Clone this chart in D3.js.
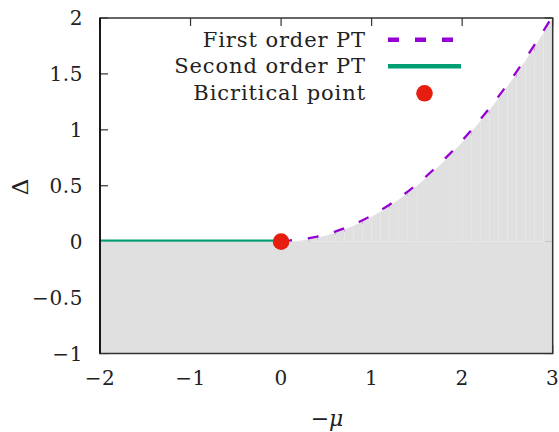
<!DOCTYPE html>
<html>
<head>
<meta charset="utf-8">
<script src="https://cdn.jsdelivr.net/npm/d3@7"></script>
<style>
html,body{margin:0;padding:0;background:#fff;}
svg{display:block;}
text{font-family:"DejaVu Serif","Liberation Serif",serif;fill:#222;}
</style>
</head>
<body>
<svg id="chart" width="559" height="432"></svg>
<script>
// ---- data ----
const xTicks = [-2, -1, 0, 1, 2, 3];
const yTicks = [-1, -0.5, 0, 0.5, 1, 1.5, 2];
const xTickLabels = ["\u22122", "\u22121", "0", "1", "2", "3"];
const yTickLabels = ["\u22121", "\u22120.5", "0", "0.5", "1", "1.5", "2"];
// first-order transition line (−μ, Δ)
const firstMu = [0,0.1,0.2,0.3,0.4,0.5,0.6,0.7,0.8,0.9,1.0,1.1,1.2,1.3,1.4,1.5,1.6,1.7,1.8,1.9,2.0,2.1,2.2,2.3,2.4,2.5,2.6,2.7,2.8,2.9,3.0];
const firstDelta = [0,0.002,0.009,0.02,0.036,0.056,0.08,0.109,0.142,0.18,0.222,0.269,0.32,0.376,0.436,0.5,0.569,0.642,0.72,0.802,0.889,0.98,1.076,1.176,1.28,1.389,1.502,1.62,1.742,1.869,2.0];
// second-order transition line
const secondMu = [-2, 0];
const secondDelta = [0, 0];
// bicritical point
const bicritMu = [0];
const bicritDelta = [0];
const legendLabels = ["First order PT", "Second order PT", "Bicritical point"];
const colors = {first: "#9400d3", second: "#009e73", point: "#e51e10", fill: "#e0e0e0"};

// ---- layout ----
const svg = d3.select("#chart");
const L = 100, R = 552.7, T = 18, B = 353.5;
const x = d3.scaleLinear().domain([-2, 3]).range([L, R]);
const y = d3.scaleLinear().domain([-1, 2]).range([B, T]);

// ticks (mirrored, inward) drawn first so the fill covers some of them
const tickG = svg.append("g").attr("stroke", "#333").attr("stroke-width", 1.2);
xTicks.forEach(v => {
  tickG.append("line").attr("x1", x(v)).attr("x2", x(v)).attr("y1", B).attr("y2", B - 8);
  tickG.append("line").attr("x1", x(v)).attr("x2", x(v)).attr("y1", T).attr("y2", T + 8);
});
yTicks.forEach(v => {
  tickG.append("line").attr("x1", L).attr("x2", L + 8).attr("y1", y(v)).attr("y2", y(v));
  tickG.append("line").attr("x1", R).attr("x2", R - 8).attr("y1", y(v)).attr("y2", y(v));
});

// lines
const firstPts = firstMu.map((m, i) => [m, firstDelta[i]]);
const line = d3.line().x(d => x(d[0])).y(d => y(d[1]));
svg.append("path").datum(secondMu.map((m, i) => [m, secondDelta[i]]))
  .attr("d", line).attr("fill", "none").attr("stroke", colors.second).attr("stroke-width", 4.5);
svg.append("path").datum(firstPts)
  .attr("d", line).attr("fill", "none").attr("stroke", colors.first)
  .attr("stroke-width", 4.5).attr("stroke-dasharray", "11,16");

// fill below: base rectangle from Δ=-1 to 0, then strips under the curve
const fillG = svg.append("g").attr("fill", colors.fill);
fillG.append("rect").attr("x", x(-2)).attr("y", y(0)).attr("width", x(3) - x(-2)).attr("height", y(-1) - y(0));
const area = d3.area().x(d => x(d[0])).y0(y(0)).y1(d => y(d[1]));
for (let i = 0; i < firstPts.length - 1; i++) {
  fillG.append("path").datum([firstPts[i], firstPts[i + 1]]).attr("d", area);
}

// border
svg.append("rect").attr("x", L).attr("y", T).attr("width", R - L).attr("height", B - T)
  .attr("fill", "none").attr("stroke", "#333").attr("stroke-width", 1.5);
svg.append("line").attr("x1", L).attr("x2", L).attr("y1", T).attr("y2", B).attr("stroke", "#000").attr("stroke-width", 1.5);

// bicritical point
svg.selectAll("circle.bp").data(bicritMu.map((m, i) => [m, bicritDelta[i]])).enter()
  .append("circle").attr("cx", d => x(d[0])).attr("cy", d => y(d[1])).attr("r", 8.3).attr("fill", colors.point);

// tick labels
const fs = 20;
xTicks.forEach((v, i) => {
  svg.append("text").attr("x", x(v)).attr("y", 385).attr("text-anchor", "middle")
    .attr("font-size", fs).attr("letter-spacing", 0.6).text(xTickLabels[i]);
});
yTicks.forEach((v, i) => {
  svg.append("text").attr("x", 83).attr("y", y(v) + 7).attr("text-anchor", "end")
    .attr("font-size", fs).attr("letter-spacing", 0.6).text(yTickLabels[i]);
});

// axis titles
svg.append("text").attr("transform", "translate(28,187) rotate(-90)").attr("text-anchor", "middle")
  .attr("font-size", 23).text("\u0394");
const xt = svg.append("text").attr("x", 327).attr("y", 426).attr("text-anchor", "middle").attr("font-size", 22);
xt.append("tspan").text("\u2212");
xt.append("tspan").attr("font-style", "italic").text("\u03bc");

// legend
const rows = [39.7, 66.3, 93.3];
legendLabels.forEach((t, i) => {
  svg.append("text").attr("x", 366).attr("y", rows[i] + 7).attr("text-anchor", "end")
    .attr("font-size", 21).attr("letter-spacing", 0.9).text(t);
});
svg.append("line").attr("x1", 388).attr("x2", 461).attr("y1", rows[0]).attr("y2", rows[0])
  .attr("stroke", colors.first).attr("stroke-width", 4.5).attr("stroke-dasharray", "11,16");
svg.append("line").attr("x1", 388).attr("x2", 461).attr("y1", rows[1]).attr("y2", rows[1])
  .attr("stroke", colors.second).attr("stroke-width", 4.5);
svg.append("circle").attr("cx", 424.5).attr("cy", rows[2]).attr("r", 8.3).attr("fill", colors.point);
</script>
</body>
</html>
